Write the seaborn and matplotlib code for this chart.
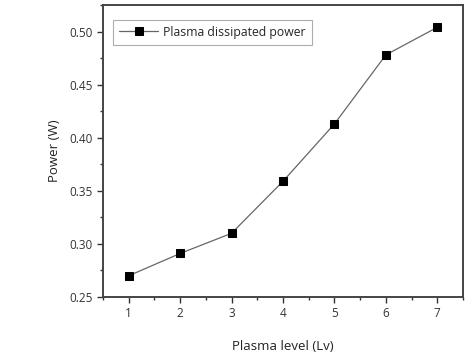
import pandas as pd
import matplotlib
matplotlib.use("Agg")
import matplotlib.pyplot as plt
import seaborn as sns
from matplotlib.ticker import MultipleLocator, FormatStrFormatter

# data
plasma_level = [1, 2, 3, 4, 5, 6, 7]
power_w = [0.270, 0.291, 0.310, 0.359, 0.413, 0.478, 0.504]

df = pd.DataFrame({"level": plasma_level, "power": power_w})

sns.set_style("ticks", {"axes.spines.top": True, "axes.spines.right": True})
plt.rcParams['font.family'] = ['Open Sans', 'DejaVu Sans']

fig = plt.figure(figsize=(4.68, 3.64), dpi=100)
ax = fig.add_axes([103/468, 1 - 297/364, (463-103)/468, (297-5)/364])

sns.lineplot(data=df, x="level", y="power", ax=ax,
             color="#666666", linewidth=0.9,
             marker="s", markersize=5.5, markerfacecolor="black",
             markeredgecolor="black", label="Plasma dissipated power")

ax.set_xlim(0.5, 7.5)
ax.set_ylim(0.25, 0.525)
ax.xaxis.set_major_locator(MultipleLocator(1))
ax.xaxis.set_minor_locator(MultipleLocator(0.5))
ax.yaxis.set_major_locator(MultipleLocator(0.05))
ax.yaxis.set_minor_locator(MultipleLocator(0.025))
ax.yaxis.set_major_formatter(FormatStrFormatter("%.2f"))
ax.tick_params(which="major", length=4, width=1, labelsize=8.5,
               color="#333333", labelcolor="#333333", top=False, right=False)
ax.tick_params(which="minor", length=2.5, width=1, color="#333333",
               top=False, right=False)

ax.set_frame_on(True)
for s in ["left", "bottom", "top", "right"]:
    ax.spines[s].set_visible(True)
    ax.spines[s].set_linewidth(1.4)
    ax.spines[s].set_color("#444444")

ax.set_xlabel("Plasma level (Lv)", fontsize=9.5, color="#222222", labelpad=14)
ax.set_ylabel("Power (W)", fontsize=9.5, color="#222222", labelpad=6)

leg = ax.legend(loc="upper left", fontsize=8.8, frameon=True, fancybox=False,
                edgecolor="#999999", handlelength=3.2, handletextpad=0.4,
                borderpad=0.5, borderaxespad=0,
                bbox_to_anchor=(0.028, 0.95))
leg.get_frame().set_linewidth(0.8)

fig.savefig("out.png", dpi=100, facecolor="white")
